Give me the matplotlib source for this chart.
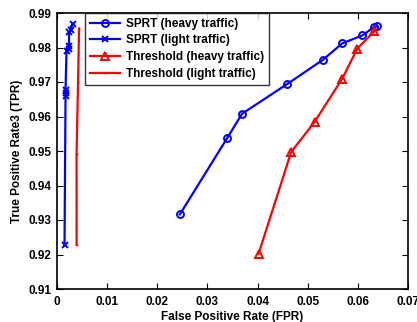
import matplotlib
matplotlib.use("Agg")
import matplotlib.pyplot as plt

plt.rcParams['font.family'] = ['Liberation Sans', 'DejaVu Sans']
plt.rcParams['font.weight'] = 'bold'

sprt_heavy_fpr = [0.0245, 0.0340, 0.0369, 0.0459, 0.0530, 0.0569, 0.0609, 0.0632, 0.0639]
sprt_heavy_tpr = [0.9316, 0.9539, 0.9608, 0.9694, 0.9764, 0.9812, 0.9835, 0.9859, 0.9861]

sprt_light_fpr = [0.0015, 0.0017, 0.0017, 0.0017, 0.0019, 0.0023, 0.0024, 0.0024, 0.0027, 0.0031]
sprt_light_tpr = [0.9227, 0.9658, 0.9667, 0.9678, 0.9789, 0.9797, 0.9803, 0.9844, 0.9852, 0.9868]

thr_heavy_fpr = [0.0402, 0.0467, 0.0514, 0.0569, 0.0599, 0.0633]
thr_heavy_tpr = [0.9202, 0.9497, 0.9585, 0.9710, 0.9797, 0.9847]

thr_light_fpr = [0.0039, 0.0039, 0.0042, 0.0044]
thr_light_tpr = [0.9228, 0.9490, 0.9700, 0.9855]

fig = plt.figure(figsize=(4.17, 3.22), dpi=100)
ax = fig.add_axes([57/417, 1 - 289/322, (408 - 57)/417, (289 - 13)/322])

ax.plot(sprt_heavy_fpr, sprt_heavy_tpr, color='#0000ff', lw=1.6, marker='o',
        ms=5, mfc='none', mew=1.4, label='SPRT (heavy traffic)')
ax.plot(sprt_light_fpr, sprt_light_tpr, color='#0000ff', lw=1.6, marker='x',
        ms=4, mew=1.4, label='SPRT (light traffic)')
ax.plot(thr_heavy_fpr, thr_heavy_tpr, color='#ff0000', lw=1.6, marker='^',
        ms=6, mfc='none', mew=1.4, label='Threshold (heavy traffic)')
ax.plot(thr_light_fpr, thr_light_tpr, color='#ff0000', lw=1.6, marker='.',
        ms=1, label='Threshold (light traffic)')

ax.set_xlim(0, 0.07)
ax.set_ylim(0.91, 0.99)
ax.set_xticks([0, 0.01, 0.02, 0.03, 0.04, 0.05, 0.06, 0.07])
ax.set_xticklabels(['0', '0.01', '0.02', '0.03', '0.04', '0.05', '0.06', '0.07'])
ax.set_yticks([0.91, 0.92, 0.93, 0.94, 0.95, 0.96, 0.97, 0.98, 0.99])
ax.set_yticklabels(['0.91', '0.92', '0.93', '0.94', '0.95', '0.96', '0.97', '0.98', '0.99'])
ax.tick_params(direction='in', top=True, right=True, length=4, width=0.8,
               labelsize=8.5)
ax.tick_params(axis='x', pad=5)
ax.tick_params(axis='y', pad=4)
for lbl in ax.get_xticklabels() + ax.get_yticklabels():
    lbl.set_fontweight('bold')
for s in ax.spines.values():
    s.set_linewidth(1.2)

ax.set_xlabel('False Positive Rate (FPR)', fontsize=8.5, fontweight='bold', labelpad=2)
ax.set_ylabel('True Positive Rate3 (TPR)', fontsize=8.5, fontweight='bold', labelpad=4)

leg = ax.legend(loc='upper left', bbox_to_anchor=(28/351, 1.0), fontsize=8.5,
                frameon=True, fancybox=False, edgecolor='black', handlelength=2.6,
                borderpad=0.4, labelspacing=0.4, handletextpad=0.5, borderaxespad=0.0)
leg.get_frame().set_linewidth(1.0)
for t in leg.get_texts():
    t.set_fontweight('bold')

fig.savefig('out.png', dpi=100)
